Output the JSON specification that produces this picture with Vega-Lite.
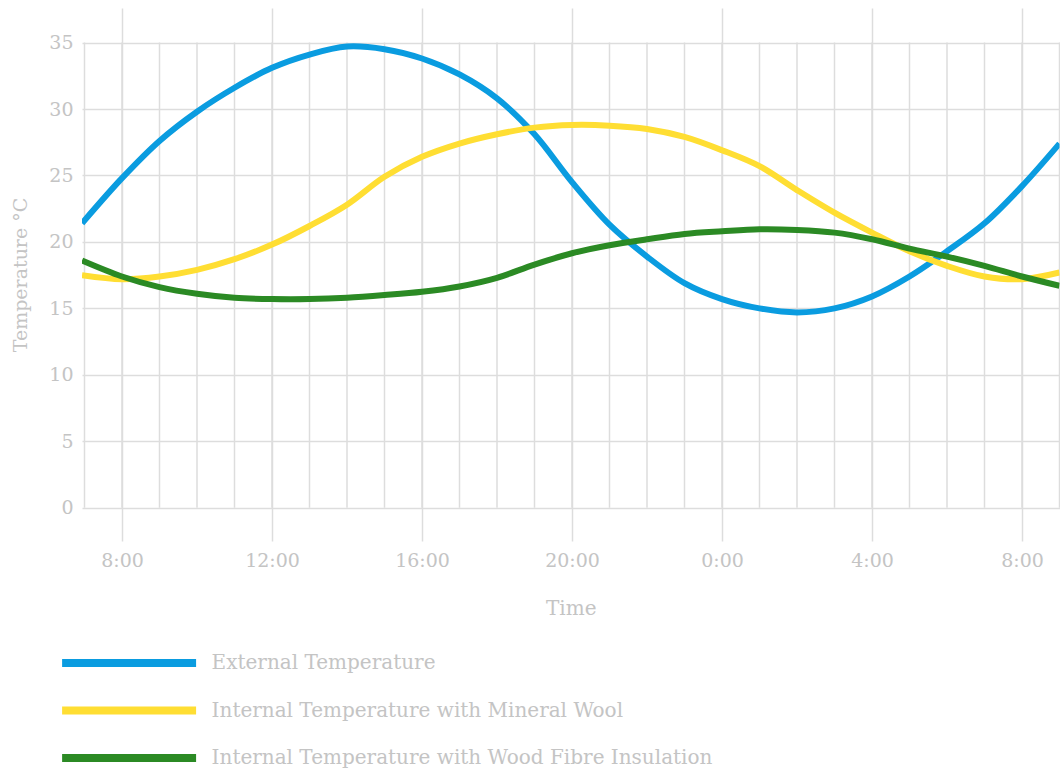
{
  "$schema": "https://vega.github.io/schema/vega-lite/v6.json",
  "autosize": {"type": "none"},
  "padding": {"left": 82, "top": 8, "right": 0, "bottom": 230},
  "width": 977.5,
  "height": 533,
  "background": "white",
  "config": {
    "view": {"stroke": null},
    "font": "DejaVu Serif"
  },
  "datasets": {
    "hours": [
      {"t": "2024-01-01T07:00:00Z"}, {"t": "2024-01-01T08:00:00Z"}, {"t": "2024-01-01T09:00:00Z"},
      {"t": "2024-01-01T10:00:00Z"}, {"t": "2024-01-01T11:00:00Z"}, {"t": "2024-01-01T12:00:00Z"},
      {"t": "2024-01-01T13:00:00Z"}, {"t": "2024-01-01T14:00:00Z"}, {"t": "2024-01-01T15:00:00Z"},
      {"t": "2024-01-01T16:00:00Z"}, {"t": "2024-01-01T17:00:00Z"}, {"t": "2024-01-01T18:00:00Z"},
      {"t": "2024-01-01T19:00:00Z"}, {"t": "2024-01-01T20:00:00Z"}, {"t": "2024-01-01T21:00:00Z"},
      {"t": "2024-01-01T22:00:00Z"}, {"t": "2024-01-01T23:00:00Z"}, {"t": "2024-01-02T00:00:00Z"},
      {"t": "2024-01-02T01:00:00Z"}, {"t": "2024-01-02T02:00:00Z"}, {"t": "2024-01-02T03:00:00Z"},
      {"t": "2024-01-02T04:00:00Z"}, {"t": "2024-01-02T05:00:00Z"}, {"t": "2024-01-02T06:00:00Z"},
      {"t": "2024-01-02T07:00:00Z"}, {"t": "2024-01-02T08:00:00Z"}, {"t": "2024-01-02T09:00:00Z"}
    ],
    "temps": [
      {"t": "2024-01-01T06:56:00Z", "s": "External Temperature", "v": 21.4},
      {"t": "2024-01-01T08:00:00Z", "s": "External Temperature", "v": 24.8},
      {"t": "2024-01-01T09:00:00Z", "s": "External Temperature", "v": 27.6},
      {"t": "2024-01-01T10:00:00Z", "s": "External Temperature", "v": 29.8},
      {"t": "2024-01-01T11:00:00Z", "s": "External Temperature", "v": 31.6},
      {"t": "2024-01-01T12:00:00Z", "s": "External Temperature", "v": 33.1},
      {"t": "2024-01-01T13:00:00Z", "s": "External Temperature", "v": 34.1},
      {"t": "2024-01-01T14:00:00Z", "s": "External Temperature", "v": 34.7},
      {"t": "2024-01-01T15:00:00Z", "s": "External Temperature", "v": 34.5},
      {"t": "2024-01-01T16:00:00Z", "s": "External Temperature", "v": 33.8},
      {"t": "2024-01-01T17:00:00Z", "s": "External Temperature", "v": 32.6},
      {"t": "2024-01-01T18:00:00Z", "s": "External Temperature", "v": 30.8},
      {"t": "2024-01-01T19:00:00Z", "s": "External Temperature", "v": 28.1},
      {"t": "2024-01-01T20:00:00Z", "s": "External Temperature", "v": 24.5},
      {"t": "2024-01-01T21:00:00Z", "s": "External Temperature", "v": 21.3},
      {"t": "2024-01-01T22:00:00Z", "s": "External Temperature", "v": 18.9},
      {"t": "2024-01-01T23:00:00Z", "s": "External Temperature", "v": 16.9},
      {"t": "2024-01-02T00:00:00Z", "s": "External Temperature", "v": 15.7},
      {"t": "2024-01-02T01:00:00Z", "s": "External Temperature", "v": 15.0},
      {"t": "2024-01-02T02:00:00Z", "s": "External Temperature", "v": 14.7},
      {"t": "2024-01-02T03:00:00Z", "s": "External Temperature", "v": 15.0},
      {"t": "2024-01-02T04:00:00Z", "s": "External Temperature", "v": 15.9},
      {"t": "2024-01-02T05:00:00Z", "s": "External Temperature", "v": 17.4},
      {"t": "2024-01-02T06:00:00Z", "s": "External Temperature", "v": 19.3},
      {"t": "2024-01-02T07:00:00Z", "s": "External Temperature", "v": 21.4},
      {"t": "2024-01-02T08:00:00Z", "s": "External Temperature", "v": 24.2},
      {"t": "2024-01-02T09:00:00Z", "s": "External Temperature", "v": 27.4},
      {"t": "2024-01-01T06:56:00Z", "s": "Internal Temperature with Mineral Wool", "v": 17.5},
      {"t": "2024-01-01T08:00:00Z", "s": "Internal Temperature with Mineral Wool", "v": 17.2},
      {"t": "2024-01-01T09:00:00Z", "s": "Internal Temperature with Mineral Wool", "v": 17.4},
      {"t": "2024-01-01T10:00:00Z", "s": "Internal Temperature with Mineral Wool", "v": 17.9},
      {"t": "2024-01-01T11:00:00Z", "s": "Internal Temperature with Mineral Wool", "v": 18.7},
      {"t": "2024-01-01T12:00:00Z", "s": "Internal Temperature with Mineral Wool", "v": 19.8},
      {"t": "2024-01-01T13:00:00Z", "s": "Internal Temperature with Mineral Wool", "v": 21.2},
      {"t": "2024-01-01T14:00:00Z", "s": "Internal Temperature with Mineral Wool", "v": 22.8},
      {"t": "2024-01-01T15:00:00Z", "s": "Internal Temperature with Mineral Wool", "v": 24.9},
      {"t": "2024-01-01T16:00:00Z", "s": "Internal Temperature with Mineral Wool", "v": 26.4},
      {"t": "2024-01-01T17:00:00Z", "s": "Internal Temperature with Mineral Wool", "v": 27.4},
      {"t": "2024-01-01T18:00:00Z", "s": "Internal Temperature with Mineral Wool", "v": 28.1},
      {"t": "2024-01-01T19:00:00Z", "s": "Internal Temperature with Mineral Wool", "v": 28.6},
      {"t": "2024-01-01T20:00:00Z", "s": "Internal Temperature with Mineral Wool", "v": 28.8},
      {"t": "2024-01-01T21:00:00Z", "s": "Internal Temperature with Mineral Wool", "v": 28.75},
      {"t": "2024-01-01T22:00:00Z", "s": "Internal Temperature with Mineral Wool", "v": 28.5},
      {"t": "2024-01-01T23:00:00Z", "s": "Internal Temperature with Mineral Wool", "v": 27.9},
      {"t": "2024-01-02T00:00:00Z", "s": "Internal Temperature with Mineral Wool", "v": 26.9},
      {"t": "2024-01-02T01:00:00Z", "s": "Internal Temperature with Mineral Wool", "v": 25.7},
      {"t": "2024-01-02T02:00:00Z", "s": "Internal Temperature with Mineral Wool", "v": 23.9},
      {"t": "2024-01-02T03:00:00Z", "s": "Internal Temperature with Mineral Wool", "v": 22.2},
      {"t": "2024-01-02T04:00:00Z", "s": "Internal Temperature with Mineral Wool", "v": 20.7},
      {"t": "2024-01-02T05:00:00Z", "s": "Internal Temperature with Mineral Wool", "v": 19.3},
      {"t": "2024-01-02T06:00:00Z", "s": "Internal Temperature with Mineral Wool", "v": 18.2},
      {"t": "2024-01-02T07:00:00Z", "s": "Internal Temperature with Mineral Wool", "v": 17.4},
      {"t": "2024-01-02T08:00:00Z", "s": "Internal Temperature with Mineral Wool", "v": 17.2},
      {"t": "2024-01-02T09:00:00Z", "s": "Internal Temperature with Mineral Wool", "v": 17.7},
      {"t": "2024-01-01T06:56:00Z", "s": "Internal Temperature with Wood Fibre Insulation", "v": 18.6},
      {"t": "2024-01-01T08:00:00Z", "s": "Internal Temperature with Wood Fibre Insulation", "v": 17.4},
      {"t": "2024-01-01T09:00:00Z", "s": "Internal Temperature with Wood Fibre Insulation", "v": 16.6},
      {"t": "2024-01-01T10:00:00Z", "s": "Internal Temperature with Wood Fibre Insulation", "v": 16.1},
      {"t": "2024-01-01T11:00:00Z", "s": "Internal Temperature with Wood Fibre Insulation", "v": 15.8},
      {"t": "2024-01-01T12:00:00Z", "s": "Internal Temperature with Wood Fibre Insulation", "v": 15.7},
      {"t": "2024-01-01T13:00:00Z", "s": "Internal Temperature with Wood Fibre Insulation", "v": 15.7},
      {"t": "2024-01-01T14:00:00Z", "s": "Internal Temperature with Wood Fibre Insulation", "v": 15.8},
      {"t": "2024-01-01T15:00:00Z", "s": "Internal Temperature with Wood Fibre Insulation", "v": 16.0},
      {"t": "2024-01-01T16:00:00Z", "s": "Internal Temperature with Wood Fibre Insulation", "v": 16.25},
      {"t": "2024-01-01T17:00:00Z", "s": "Internal Temperature with Wood Fibre Insulation", "v": 16.65},
      {"t": "2024-01-01T18:00:00Z", "s": "Internal Temperature with Wood Fibre Insulation", "v": 17.3},
      {"t": "2024-01-01T19:00:00Z", "s": "Internal Temperature with Wood Fibre Insulation", "v": 18.3},
      {"t": "2024-01-01T20:00:00Z", "s": "Internal Temperature with Wood Fibre Insulation", "v": 19.15},
      {"t": "2024-01-01T21:00:00Z", "s": "Internal Temperature with Wood Fibre Insulation", "v": 19.75},
      {"t": "2024-01-01T22:00:00Z", "s": "Internal Temperature with Wood Fibre Insulation", "v": 20.2},
      {"t": "2024-01-01T23:00:00Z", "s": "Internal Temperature with Wood Fibre Insulation", "v": 20.6},
      {"t": "2024-01-02T00:00:00Z", "s": "Internal Temperature with Wood Fibre Insulation", "v": 20.8},
      {"t": "2024-01-02T01:00:00Z", "s": "Internal Temperature with Wood Fibre Insulation", "v": 20.95},
      {"t": "2024-01-02T02:00:00Z", "s": "Internal Temperature with Wood Fibre Insulation", "v": 20.9},
      {"t": "2024-01-02T03:00:00Z", "s": "Internal Temperature with Wood Fibre Insulation", "v": 20.7},
      {"t": "2024-01-02T04:00:00Z", "s": "Internal Temperature with Wood Fibre Insulation", "v": 20.2},
      {"t": "2024-01-02T05:00:00Z", "s": "Internal Temperature with Wood Fibre Insulation", "v": 19.5},
      {"t": "2024-01-02T06:00:00Z", "s": "Internal Temperature with Wood Fibre Insulation", "v": 18.9},
      {"t": "2024-01-02T07:00:00Z", "s": "Internal Temperature with Wood Fibre Insulation", "v": 18.2},
      {"t": "2024-01-02T08:00:00Z", "s": "Internal Temperature with Wood Fibre Insulation", "v": 17.4},
      {"t": "2024-01-02T09:00:00Z", "s": "Internal Temperature with Wood Fibre Insulation", "v": 16.7}
    ]
  },
  "layer": [
    {
      "data": {"name": "hours"},
      "mark": {"type": "rule", "color": "#dddddd", "strokeWidth": 1.5},
      "encoding": {
        "x": {"field": "t", "type": "temporal"},
        "y": {"datum": 0, "type": "quantitative"},
        "y2": {"datum": 35}
      }
    },
    {
      "data": {"name": "temps"},
      "mark": {"type": "line", "interpolate": "catmull-rom", "strokeWidth": 6, "clip": true},
      "encoding": {
        "x": {
          "field": "t", "type": "temporal",
          "scale": {"type": "utc", "domain": [{"year": 2024, "month": 1, "date": 1, "hours": 6, "minutes": 56, "utc": true}, {"year": 2024, "month": 1, "date": 2, "hours": 9, "utc": true}]},
          "axis": {
            "title": "Time",
            "format": "%-H:%M",
            "values": [
              {"year": 2024, "month": 1, "date": 1, "hours": 8, "utc": true},
              {"year": 2024, "month": 1, "date": 1, "hours": 12, "utc": true},
              {"year": 2024, "month": 1, "date": 1, "hours": 16, "utc": true},
              {"year": 2024, "month": 1, "date": 1, "hours": 20, "utc": true},
              {"year": 2024, "month": 1, "date": 2, "hours": 0, "utc": true},
              {"year": 2024, "month": 1, "date": 2, "hours": 4, "utc": true},
              {"year": 2024, "month": 1, "date": 2, "hours": 8, "utc": true}
            ],
            "grid": true, "gridColor": "#dddddd", "gridWidth": 1.5,
            "domain": false, "ticks": false,
            "labelPadding": 10, "labelFontSize": 19, "labelColor": "#c4c4c4", "labelFont": "DejaVu Serif",
            "titleFontSize": 20, "titleColor": "#c4c4c4", "titleFontWeight": "normal", "titleFont": "DejaVu Serif",
            "titlePadding": 28
          }
        },
        "y": {
          "field": "v", "type": "quantitative",
          "scale": {"domain": [-2.5, 37.6], "nice": false, "zero": false},
          "axis": {
            "title": "Temperature °C",
            "values": [0, 5, 10, 15, 20, 25, 30, 35],
            "grid": true, "gridColor": "#dddddd", "gridWidth": 1.5,
            "domain": false, "ticks": false,
            "labelPadding": 9, "labelFontSize": 19, "labelColor": "#c4c4c4", "labelFont": "DejaVu Serif",
            "titleFontSize": 19, "titleColor": "#c4c4c4", "titleFontWeight": "normal", "titleFont": "DejaVu Serif",
            "titlePadding": 18
          }
        },
        "color": {
          "field": "s", "type": "nominal",
          "scale": {
            "domain": ["External Temperature", "Internal Temperature with Mineral Wool", "Internal Temperature with Wood Fibre Insulation"],
            "range": ["#0a9ce0", "#ffde33", "#2b8a24"]
          },
          "legend": {
            "title": null,
            "orient": "none",
            "legendX": 29.6,
            "legendY": 637.5,
            "padding": 0,
            "symbolType": "M-5,0H5",
            "symbolSize": 718,
            "symbolStrokeWidth": 8,
            "labelOffset": 65,
            "rowPadding": 13.5,
            "labelFontSize": 20,
            "labelFont": "DejaVu Serif",
            "labelColor": "#c4c4c4",
            "labelLimit": 0
          }
        }
      }
    }
  ]
}
